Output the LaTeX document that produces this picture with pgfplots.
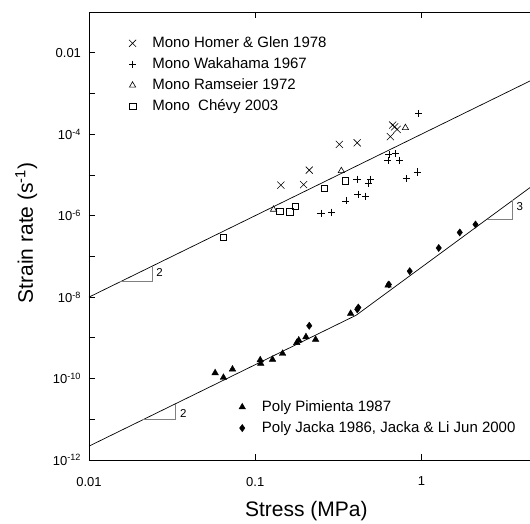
\documentclass[border=0pt]{standalone}
\usepackage{fontspec}
\setmainfont{Liberation Sans}
\usepackage{pgfplots}
\pgfplotsset{compat=1.18}

\begin{document}
\begin{tikzpicture}
\begin{axis}[
  scale only axis, width=441pt, height=448pt,
  xmode=log, ymode=log,
  xmin=0.01, xmax=4.5, ymin=1e-12, ymax=1e-1,
  axis x line*=box, axis y line*=left,
  axis line style={line width=0.8pt},
  major tick style={line width=0.8pt, black},
  major tick length=6pt,
  minor tick style={draw=none},
  xtick={0.01,0.1,1}, xticklabels={0.01,0.1,1},
  ytick={1e-12,1e-11,1e-10,1e-9,1e-8,1e-7,1e-6,1e-5,1e-4,1e-3,1e-2},
  yticklabels={10\textsuperscript{-12},{},10\textsuperscript{-10},{},10\textsuperscript{-8},{},
    10\textsuperscript{-6},{},10\textsuperscript{-4},{},0.01},
  tick label style={font=\fontsize{13}{15}\selectfont},
  xticklabel style={yshift=-13.5pt},
  yticklabel style={xshift=-4.5pt},
  label style={font=\fontsize{21}{24}\selectfont},
  xlabel={Stress (MPa)},
  ylabel={Strain rate (s\textsuperscript{-1})},
  xlabel style={at={(axis description cs:0.493,-0.125)}, anchor=base},
  ylabel style={at={(axis description cs:-0.127,0.507)}, anchor=base},
  legend style={draw=none, fill=none, row sep=0pt, inner sep=0pt,
    font=\fontsize{15}{18}\selectfont,
    nodes={inner sep=3.5pt, text height=11pt, text depth=3pt},
    at={(0.084,0.954)}, anchor=north west},
  legend cell align=left,
  legend image code/.code={\path (-6pt,0pt) (16pt,0pt);
      \draw[#1] plot coordinates {(0pt,0pt)};},
]
% fitted lines
\addplot[black, line width=0.7pt, forget plot] coordinates {(0.01,1e-8) (5,2.5e-3)};
\addplot[black, line width=0.7pt, forget plot] coordinates {(0.01,2.19e-12) (0.405,3.59e-9) (5,6.7e-6)};
% slope triangles
\addplot[gray, line width=0.8pt, forget plot] coordinates {(0.0154,2.37e-8) (0.024,2.37e-8) (0.024,5.76e-8)};
\addplot[gray, line width=0.8pt, forget plot] coordinates {(0.0211,9.75e-12) (0.033,9.75e-12) (0.033,2.37e-11)};
\addplot[gray, line width=0.8pt, forget plot] coordinates {(2.464,8.05e-7) (3.55,8.05e-7) (3.55,2.40e-6)};
\node[anchor=west, font=\fontsize{11.5}{13}\selectfont, inner sep=0pt] at (axis cs:0.0254,4.09e-8) {2};
\node[anchor=west, font=\fontsize{11.5}{13}\selectfont, inner sep=0pt] at (axis cs:0.0353,1.40e-11) {2};
\node[anchor=west, font=\fontsize{11.5}{13}\selectfont, inner sep=0pt] at (axis cs:3.73,1.71e-6) {3};

% Mono Homer & Glen 1978
\addplot[only marks, black, mark=x, mark size=5pt, line width=0.6pt] coordinates {
(0.1428,5.62e-6) (0.1954,5.78e-6) (0.2114,1.31e-5) (0.3206,5.62e-5) (0.4106,6.15e-5)
(0.6506,8.73e-5) (0.6716,1.673e-4) (0.6906,1.52e-4) (0.7139,1.31e-4)};
\addlegendentry{Mono Homer \& Glen 1978}
% Mono Wakahama 1967
\addplot[only marks, black, mark=+, mark size=3.6pt, line width=0.6pt] coordinates {
(0.2490,1.152e-6) (0.2882,1.219e-6) (0.3508,2.31e-6) (0.4146,3.34e-6) (0.4600,3.01e-6)
(0.4100,7.88e-6) (0.4950,7.88e-6) (0.4795,6.22e-6) (0.6371,3.12e-5) (0.7002,3.30e-5)
(0.6284,2.31e-5) (0.7402,2.31e-5) (0.8120,8.20e-6) (0.9421,1.185e-5) (0.9632,3.24e-4)};
\addlegendentry{Mono Wakahama 1967}
% Mono Ramseier 1972
\addplot[only marks, black, mark=triangle, mark size=3.6pt, line width=0.6pt] coordinates {
(0.1289,1.42e-6) (0.3298,1.261e-5) (0.8010,1.437e-4)};
\addlegendentry{Mono Ramseier 1972}
% Mono Chevy 2003
\addplot[only marks, black, mark=square, mark size=3.3pt, line width=0.6pt] coordinates {
(0.0644,2.91e-7) (0.1401,1.29e-6) (0.1609,1.24e-6) (0.1742,1.71e-6) (0.2604,4.66e-6) (0.3484,7.16e-6)};
\addlegendentry{Mono\ \ Chévy 2003}
\end{axis}

\begin{axis}[
  scale only axis, width=441pt, height=448pt,
  xmode=log, ymode=log,
  xmin=0.01, xmax=4.5, ymin=1e-12, ymax=1e-1,
  hide axis,
  legend style={draw=none, fill=none, row sep=0pt, inner sep=0pt,
    font=\fontsize{15}{18}\selectfont,
    nodes={inner sep=3.5pt, text height=11pt, text depth=3pt},
    at={(0.333,0.142)}, anchor=north west},
  legend cell align=left,
  legend image code/.code={\path (-6pt,0pt) (16pt,0pt);
      \draw[#1] plot coordinates {(0pt,0pt)};},
]
% Poly Pimienta 1987
\addplot[only marks, black, mark=triangle*, mark size=3.8pt] coordinates {
(0.0574,1.373e-10) (0.0644,1.058e-10) (0.0730,1.693e-10) (0.1072,2.85e-10) (0.1079,2.34e-10)
(0.1271,2.93e-10) (0.1461,4.11e-10) (0.1778,7.58e-10) (0.1828,8.73e-10) (0.2020,1.052e-9)
(0.2309,9.08e-10) (0.3751,3.95e-9) (0.6300,1.95e-8)};
\addlegendentry{Poly Pimienta 1987}
% Poly Jacka
\addplot[only marks, black, mark=diamond*, mark size=3.6pt] coordinates {
(0.2114,1.98e-9) (0.4174,5.55e-9) (0.4110,5.0e-9) (0.6371,2.04e-8) (0.8502,4.33e-8)
(1.271,1.608e-7) (1.701,3.87e-7) (2.115,6.08e-7)};
\addlegendentry{Poly Jacka 1986, Jacka \& Li Jun 2000}
\end{axis}

\pgfresetboundingbox
\path ([shift={(-89pt,-63pt)}]current axis.south west) rectangle ([shift={(0pt,12pt)}]current axis.north east);
\end{tikzpicture}
\end{document}
